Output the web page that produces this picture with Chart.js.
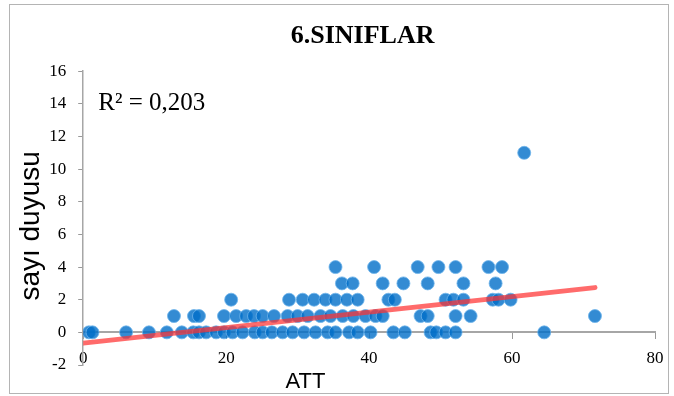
<!DOCTYPE html>
<html lang="tr">
<head>
  <meta charset="UTF-8">
  <title>6.SINIFLAR</title>
  <script src="https://cdn.jsdelivr.net/npm/chart.js"></script>
  <style>
    body { margin: 0; background: #fff; }
    #wrap { position: relative; width: 674px; height: 396px; }
    #frame {
      position: absolute; left: 9px; top: 4px; width: 658px; height: 388px;
      border: 1px solid #b4b4b4; pointer-events: none;
    }
  </style>
</head>
<body>
  <div id="wrap">
    <canvas id="chart" width="674" height="396"></canvas>
    <div id="frame"></div>
  </div>

  <script>
    // ATT scores, grouped by the "sayı duyusu" value they got
    const scoreLevels = [0, 1, 2, 3, 4, 11];
    const attAtScore0 = [0.8, 1.3, 6.0, 9.2, 11.7, 13.8, 15.4, 16.2, 17.2, 18.6, 19.7, 20.9, 22.3, 24.0, 25.1, 26.4,
                         27.9, 29.3, 30.9, 32.5, 34.2, 35.3, 37.2, 38.4, 40.2, 43.4, 45.0, 48.6, 49.4, 50.7, 52.1, 64.5];
    const attAtScore1 = [12.7, 15.5, 16.2, 19.7, 21.4, 22.8, 23.9, 25.1, 26.7, 28.6, 30.0, 31.4, 33.2, 34.6, 36.3,
                         37.8, 39.5, 40.9, 41.9, 47.2, 48.2, 52.1, 54.2, 71.6];
    const attAtScore2 = [20.7, 28.8, 30.7, 32.3, 33.9, 35.3, 36.9, 38.4, 42.7, 43.6, 50.7, 51.8, 53.2, 57.3, 58.1, 59.8];
    const attAtScore3 = [36.2, 37.7, 41.9, 44.8, 48.2, 53.2, 57.7];
    const attAtScore4 = [35.3, 40.7, 46.8, 49.7, 52.1, 56.7, 58.6];
    const attAtScore11 = [61.7];

    // linear trend line ends
    const trendX = [0, 71.6];
    const trendY = [-0.66, 2.74];

    const xTicks = [0, 20, 40, 60, 80];
    const yTicks = [-2, 0, 2, 4, 6, 8, 10, 12, 14, 16];
    const rSquared = 'R² = 0,203';

    const groups = [attAtScore0, attAtScore1, attAtScore2, attAtScore3, attAtScore4, attAtScore11];
    const points = [];
    groups.forEach((xs, i) => xs.forEach(x => points.push({ x: x, y: scoreLevels[i] })));
    const trend = trendX.map((x, i) => ({ x: x, y: trendY[i] }));

    const serif = "'Liberation Serif', 'Times New Roman', serif";
    const sans = "'Liberation Sans', Arial, sans-serif";

    // R² note and the ATT caption
    const notes = {
      id: 'notes',
      afterDraw(chart) {
        const ctx = chart.ctx, xs = chart.scales.x, ys = chart.scales.y;
        ctx.save();
        ctx.fillStyle = '#000';
        ctx.textBaseline = 'middle';
        ctx.font = '25px ' + serif;
        ctx.textAlign = 'left';
        ctx.fillText(rSquared, xs.getPixelForValue(2.1), ys.getPixelForValue(14));
        ctx.font = '22px ' + sans;
        ctx.textAlign = 'center';
        ctx.fillText('ATT', xs.getPixelForValue(31.1), ys.getPixelForValue(0) + 50);
        ctx.restore();
      }
    };

    new Chart(document.getElementById('chart'), {
      type: 'scatter',
      data: {
        datasets: [
          {
            type: 'line',
            data: trend,
            borderColor: 'rgba(255, 50, 50, 0.72)',
            borderWidth: 5,
            borderCapStyle: 'round',
            pointRadius: 0,
            fill: false,
            order: 0
          },
          {
            data: points,
            backgroundColor: 'rgba(0, 110, 200, 0.8)',
            borderColor: 'rgba(110, 180, 235, 0.8)',
            borderWidth: 1,
            pointRadius: 6.5,
            order: 1
          }
        ]
      },
      options: {
        responsive: false,
        animation: false,
        devicePixelRatio: 1,
        layout: { padding: { left: 26, right: 19, top: 0, bottom: 31 } },
        plugins: {
          legend: { display: false },
          tooltip: { enabled: false },
          title: {
            display: true,
            text: '6.SINIFLAR  ',
            fullSize: false,
            color: '#000',
            font: { family: serif, size: 26, weight: 'bold' },
            padding: { top: 21, bottom: 19 }
          }
        },
        scales: {
          x: {
            type: 'linear',
            position: { y: 0 },
            min: 0,
            max: 80,
            afterBuildTicks: s => { s.ticks = xTicks.map(v => ({ value: v })); },
            ticks: { color: '#000', font: { family: serif, size: 17 }, padding: 10 },
            grid: { drawOnChartArea: false, tickLength: 6, color: '#999' },
            border: { color: '#a6a6a6', width: 2 }
          },
          y: {
            min: -2,
            max: 16,
            afterBuildTicks: s => { s.ticks = yTicks.map(v => ({ value: v })); },
            ticks: { color: '#000', font: { family: serif, size: 17 }, padding: 12 },
            grid: { drawOnChartArea: false, tickLength: 5, color: '#999' },
            border: { color: '#a6a6a6', width: 1.5 },
            title: {
              display: true,
              text: 'sayı duyusu  ',
              color: '#000',
              font: { family: sans, size: 28, lineHeight: 0.4 },
              padding: { top: 0, bottom: 0 }
            }
          }
        }
      },
      plugins: [notes]
    });
  </script>
</body>
</html>
